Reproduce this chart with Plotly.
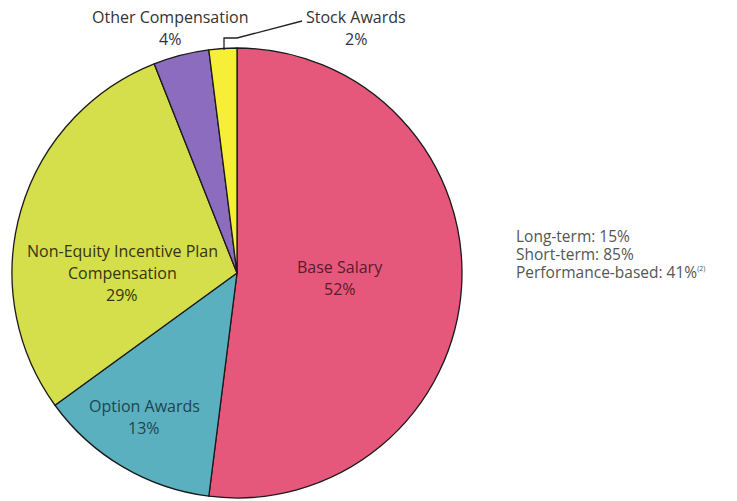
import plotly.graph_objects as go

W, H = 737, 501

labels = ["Base Salary", "Option Awards", "Non-Equity Incentive Plan Compensation",
          "Other Compensation", "Stock Awards"]
values = [52, 13, 29, 4, 2]
colors = ["#E6587B", "#5BB0C0", "#D4DF4B", "#8B6CBF", "#F6EE37"]
summary_lines = ["Long-term: 15%", "Short-term: 85%", "Performance-based: 41%"]

cx, cy, r = 237, 273, 225

fig = go.Figure()
fig.add_trace(go.Pie(
    labels=labels, values=values, sort=False, direction="clockwise", rotation=0,
    marker=dict(colors=colors, line=dict(color="#1a1a1a", width=1.3)),
    textinfo="none", hoverinfo="label+percent", showlegend=False,
    domain=dict(x=[(cx - r) / W, (cx + r) / W], y=[1 - (cy + r) / H, 1 - (cy - r) / H]),
))

FONT = "'Open Sans', sans-serif"

def px(x, y):
    return x / W, 1 - y / H

def add_line(text, x, y, color, size=16, xanchor="center"):
    xx, yy = px(x, y)
    fig.add_annotation(x=xx, y=yy, xref="paper", yref="paper", text=text, showarrow=False,
                       xanchor=xanchor, yanchor="middle",
                       font=dict(family=FONT, size=size, color=color))

# slice labels: (line texts, x, y of first line, color)
label_layout = [
    (["Base Salary"], 340, 267, "#5a1a2c"),
    (["Option Awards"], 144, 406, "#1c4550"),
    (["Non-Equity Incentive Plan", "Compensation"], 122, 251, "#35350f"),
    (["Other Compensation"], 170, 17, "#333333"),
    (["Stock Awards"], 356, 17, "#333333"),
]
for (lines, x, y, col), v in zip(label_layout, values):
    for i, t in enumerate(lines + [f"{v}%"]):
        add_line(t, x, y + 22 * i, col)

# leader line for Stock Awards
p = [px(224, 50), px(224, 38), px(237, 38), px(302, 21)]
path = "M " + " L ".join(f"{a},{b}" for a, b in p)
fig.add_shape(type="path", xref="paper", yref="paper", path=path,
              line=dict(color="#222222", width=1.3))

# right-hand summary text
for i, t in enumerate(summary_lines):
    if i == 2:
        t = t + "<sup><span style='font-size:7px'>(2)</span></sup>"
    add_line(t, 514, 236 + 18 * i, "#555555", size=15.5, xanchor="left")

fig.update_layout(width=W, height=H, margin=dict(l=0, r=0, t=0, b=0),
                  paper_bgcolor="white", plot_bgcolor="white")
fig.write_html("out.html")
